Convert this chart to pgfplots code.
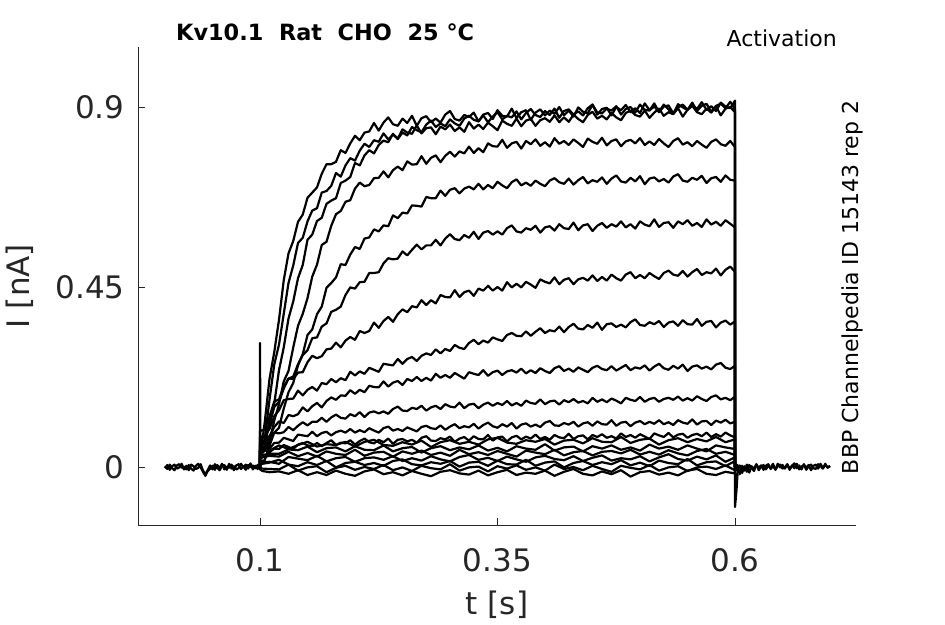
\documentclass[border=0pt]{standalone}
\usepackage{fontspec}
\setmainfont{DejaVu Sans}
\usepackage{pgfplots}
\pgfplotsset{compat=1.18}
\usepackage{pgfplotstable}
\definecolor{axgray}{HTML}{262626}

% main traces, current in pA
\pgfplotstableread{
t A B C D E F G H I J K L
0.1 0 0 0 0 0 0 0 0 0 0 0 0
0.1 310 40 30 30 15 55 90 75 62 42 45 40
0.1005 30 40 30 30 15 55 90 75 62 42 45 40
0.105 112 70 54 41 17 61 95 79 66 43 48 43
0.110 220 168 116 63 53 106 126 95 77 78 46 37
0.115 287 256 158 116 86 150 164 127 100 86 60 46
0.120 368 306 242 157 98 163 169 142 114 84 61 45
0.125 467 383 299 214 146 196 201 167 110 87 73 55
0.130 534 460 371 240 187 221 221 170 130 100 69 50
0.135 565 504 414 299 210 226 220 171 127 92 65 45
0.140 613 560 472 353 254 257 236 191 132 103 81 56
0.145 631 573 505 383 282 280 237 179 149 112 79 60
0.150 673 614 568 422 330 292 262 193 139 104 77 54
0.155 686 641 581 476 344 322 278 200 152 113 88 52
0.160 699 647 615 506 382 324 272 191 160 113 77 60
0.165 733 686 623 555 401 351 277 210 149 123 85 52
0.170 757 690 658 563 448 359 294 207 165 113 88 60
0.175 757 703 666 603 460 388 296 220 174 124 79 67
0.180 763 735 672 632 474 393 311 212 168 131 87 55
0.185 792 726 710 640 507 401 299 222 179 123 91 61
0.190 785 754 716 663 505 430 316 217 178 121 86 59
0.195 809 772 725 667 531 449 325 238 192 132 95 67
0.200 828 766 760 696 550 446 318 229 183 127 86 56
0.205 817 791 754 711 545 462 340 239 193 137 92 65
0.210 836 808 779 702 571 463 335 233 187 125 87 71
0.215 839 800 792 705 574 485 340 248 203 136 97 62
0.220 860 817 784 722 594 485 361 243 200 139 91 59
0.225 841 813 805 723 589 487 348 238 199 134 86 68
0.230 861 834 816 739 604 509 365 258 214 139 97 62
0.235 874 819 812 724 602 522 375 256 201 133 101 71
0.240 857 831 833 742 629 519 363 254 211 145 91 58
0.245 853 821 820 751 622 521 382 270 215 151 95 68
0.250 871 844 836 742 636 539 394 258 205 141 90 70
0.255 860 836 829 764 634 529 387 270 220 140 99 64
0.260 878 833 850 756 654 543 402 275 215 148 94 68
0.265 853 854 842 757 653 556 399 265 225 145 89 61
0.270 872 834 837 777 651 544 417 278 215 153 100 73
0.275 877 847 856 758 675 554 405 284 223 141 103 77
0.280 862 849 866 773 672 554 417 280 216 149 97 66
0.285 871 832 850 779 672 568 409 294 233 153 95 65
0.290 861 851 859 762 691 554 430 284 223 145 104 72
0.295 881 844 852 778 678 571 425 295 230 157 93 69
0.300 890 856 869 788 693 582 424 290 223 151 101 76
0.305 870 840 859 776 697 570 442 305 235 149 107 63
0.310 866 849 853 789 684 567 425 298 228 161 97 71
0.315 880 838 871 784 696 580 437 295 221 147 102 75
0.320 875 862 878 801 701 573 441 310 237 156 99 66
0.325 886 846 868 785 694 588 428 318 233 158 108 77
0.330 864 856 864 797 708 570 446 307 230 147 96 70
0.335 881 845 879 787 694 586 441 316 242 156 105 69
0.340 885 861 862 809 705 590 453 311 228 161 111 80
0.345 870 852 876 802 697 581 441 324 237 153 102 66
0.350 892 842 887 801 713 589 450 319 241 160 98 74
0.355 878 866 869 818 704 581 441 315 230 155 107 76
0.360 876 858 878 798 697 597 462 330 239 165 101 64
0.365 896 853 874 809 712 604 449 335 242 154 110 74
0.370 872 871 889 813 719 589 458 328 236 160 96 78
0.375 887 852 869 796 704 586 449 327 246 153 106 69
0.380 892 866 885 815 711 597 463 339 234 166 109 76
0.385 868 870 895 807 703 593 456 328 242 160 101 71
0.390 886 853 880 819 716 603 448 338 235 158 106 81
0.395 894 867 875 803 708 586 469 347 247 169 100 70
0.400 879 872 890 812 702 599 463 335 240 157 111 75
0.405 891 863 880 801 716 602 459 342 235 164 115 68
0.410 883 879 896 822 722 591 474 339 247 166 104 80
0.415 900 862 873 808 712 607 457 351 252 156 103 74
0.420 879 874 890 815 708 597 468 337 240 167 110 72
0.425 891 863 894 805 721 595 472 350 246 162 106 83
0.430 876 881 881 819 706 611 457 358 238 170 113 70
0.435 899 870 889 810 717 592 469 346 249 161 101 77
0.440 888 862 879 800 725 604 473 344 243 165 109 79
0.445 884 880 897 821 709 607 466 355 237 159 112 69
0.450 906 888 906 813 717 590 479 348 248 173 103 80
0.455 881 871 886 808 713 603 465 361 253 163 114 75
0.460 895 878 884 823 724 610 475 343 245 169 107 82
0.465 898 869 896 804 708 598 466 357 242 162 106 73
0.470 879 885 891 815 721 607 481 359 252 171 117 77
0.475 900 874 902 819 729 601 472 350 241 166 103 71
0.480 892 867 881 802 714 614 466 356 248 159 111 84
0.485 905 885 895 814 711 599 481 349 255 173 113 75
0.490 887 891 900 818 723 607 487 362 242 168 102 80
0.495 897 880 886 809 714 596 472 369 249 165 111 73
0.500 885 876 906 822 727 614 480 355 246 175 115 82
0.505 909 891 893 805 707 606 472 353 254 163 107 76
0.510 892 873 891 814 721 602 485 362 241 170 113 70
0.515 901 886 909 805 724 619 477 357 251 173 108 84
0.520 888 896 887 820 714 600 470 365 258 163 117 79
0.525 906 878 901 809 720 610 485 350 247 170 107 75
0.530 894 887 904 800 711 612 491 361 243 173 112 85
0.535 883 882 884 815 726 598 481 364 253 168 105 74
0.540 907 897 899 822 732 614 478 353 246 176 117 81
0.545 899 876 906 806 716 607 490 367 256 166 111 83
0.550 893 893 893 812 713 617 476 357 240 172 108 73
0.555 911 903 904 802 723 603 487 356 251 166 119 80
0.560 890 887 895 815 718 610 495 370 254 177 106 83
0.565 903 882 912 806 728 600 480 353 246 170 114 77
0.570 908 896 893 798 710 619 487 363 251 165 115 86
0.575 888 886 902 813 722 606 484 365 244 175 105 75
0.580 903 902 890 819 725 613 496 349 256 179 116 82
0.585 908 879 911 807 713 603 479 361 260 169 111 76
0.590 897 896 901 803 729 617 493 366 248 173 118 86
0.595 913 900 897 815 718 608 501 356 245 167 109 79
0.600 894 887 916 800 716 599 488 364 253 176 113 74
0.600 -100 0 0 0 0 0 0 0 0 0 0 0
0.6015 -60 0 0 0 0 0 0 0 0 0 0 0
0.603 -5 0 0 0 0 0 0 0 0 0 0 0
}\tabA

% small traces, current in pA
\pgfplotstableread{
t M N O P Q R S
0.1 0 0 0 0 0 0 0
0.1 40 28 20 10 4 -2 -6
0.1025 42 30 24 12 8 -4 -10
0.11 41 33 28 13 11 -5 -13
0.12 54 33 26 8 18 -6 -11
0.13 45 44 38 25 6 6 -17
0.14 55 42 27 21 2 -9 -8
0.15 63 51 35 17 12 -1 -20
0.16 51 37 26 28 5 2 -13
0.17 57 47 39 14 15 -13 -20
0.18 55 49 33 22 -1 -2 -9
0.19 63 39 30 25 10 3 -17
0.20 51 52 43 13 13 -7 -22
0.21 63 43 28 22 5 0 -11
0.22 68 42 36 24 10 -5 -6
0.23 55 54 38 18 3 5 -18
0.24 53 39 26 27 15 -8 -13
0.25 62 47 39 15 19 -1 -21
0.26 56 50 33 22 7 -10 -10
0.27 66 36 41 16 4 3 -17
0.28 50 47 30 27 12 -3 -23
0.29 62 52 36 19 8 -6 -12
0.30 67 42 28 14 15 7 -8
0.31 58 49 43 25 1 -9 -16
0.32 63 44 32 30 11 -1 -19
0.33 56 54 37 18 13 1 -9
0.34 69 41 30 23 3 -11 -21
0.35 73 48 40 15 16 2 -13
0.36 61 39 33 26 7 -4 -7
0.37 58 52 26 19 6 4 -20
0.38 67 46 41 13 18 -7 -14
0.39 63 43 36 24 3 -1 -17
0.40 70 57 32 28 11 -9 -9
0.41 56 41 43 20 14 6 -22
0.42 66 49 29 17 -1 -5 -12
0.43 68 51 37 27 10 0 -5
0.44 59 39 40 15 15 -8 -17
0.45 72 52 29 23 5 3 -21
0.46 63 46 38 29 12 -5 -11
0.47 62 54 40 16 7 -12 -18
0.48 75 43 34 22 17 3 -8
0.49 60 49 43 19 4 -2 -24
0.50 68 41 31 27 11 -6 -13
0.51 71 56 38 14 2 5 -10
0.52 56 46 31 24 16 -9 -19
0.53 67 51 42 32 10 -1 -14
0.54 72 43 34 20 7 2 -21
0.55 62 54 29 16 20 -10 -9
0.56 70 46 40 26 4 -1 -5
0.57 64 39 45 19 12 1 -17
0.58 75 54 33 29 14 -5 -20
0.59 62 49 38 13 2 4 -12
0.60 69 45 30 24 15 -8 -16
0.60 0 0 0 0 0 0 0
0.603 0 0 0 0 0 0 0
}\tabB

% baseline before the pulse
\pgfplotstableread{
t b1 b2
0 2 -3
0.0025 -5 5
0.005 6 -7
0.0075 -3 2
0.01 -8 6
0.0125 4 -4
0.015 7 -1
0.0175 -2 8
0.02 1 -6
0.0225 -6 3
0.025 5 -8
0.0275 -4 6
0.03 -9 2
0.0325 3 -5
0.035 8 -2
0.0375 -1 7
0.04 -12 -9
0.0425 -22 -18
0.045 -10 -8
0.0475 -4 4
0.05 3 -6
0.0525 -7 7
0.055 5 -2
0.0575 -3 -8
0.06 8 3
0.0625 -6 5
0.065 1 -7
0.0675 -2 8
0.07 6 -4
0.0725 -8 2
0.075 4 -6
0.0775 7 -3
0.08 -5 8
0.0825 2 -1
0.085 -7 6
0.0875 5 -4
0.09 -1 9
0.0925 4 -6
0.095 -3 3
0.0975 5 -5
0.1 0 0
}\tabPre

% baseline after the pulse
\pgfplotstableread{
t p1 p2
0.6 0 0
0.6025 -8 5
0.605 4 -18
0.6075 -15 3
0.61 2 -9
0.6125 -12 6
0.615 5 -14
0.6175 -3 2
0.62 -10 -4
0.6225 6 7
0.625 -2 -8
0.6275 4 1
0.63 -7 5
0.6325 3 -6
0.635 7 3
0.6375 -5 -2
0.64 2 8
0.6425 -6 -7
0.645 8 2
0.6475 -1 6
0.65 5 -4
0.6525 -4 -1
0.655 6 7
0.6575 -7 -5
0.66 3 4
0.6625 9 -3
0.665 -3 8
0.6675 4 -6
0.67 -6 1
0.6725 7 5
0.675 -2 -7
0.6775 5 2
0.68 -8 6
0.6825 3 -3
0.685 6 -5
0.6875 -4 7
0.69 8 2
0.6925 -3 -4
0.695 5 8
0.6975 -1 -2
0.7 2 3
}\tabPost

\begin{document}
\begin{tikzpicture}
\path[use as bounding box] (0,0) rectangle (945pt,624pt);
\begin{axis}[
  at={(138pt,99pt)}, anchor=south west,
  scale only axis, width=718pt, height=478pt,
  xmin=-0.02842, xmax=0.72737, ymin=-145, ymax=1050,
  axis x line*=bottom, axis y line*=left,
  axis line style={axgray, line width=0.8pt},
  xtick={0.1,0.35,0.6}, xticklabels={0.1,0.35,0.6},
  ytick={0,450,900}, yticklabels={0,0.45,0.9},
  tick align=inside, major tick length=7pt,
  tick style={axgray, line width=0.8pt},
  /pgf/number format/assume math mode=true,
  ticklabel style={font=\fontsize{31}{37}\selectfont, text=axgray},
  xticklabel style={yshift=-20pt},
  yticklabel style={xshift=-10pt},
  xlabel={t [s]}, ylabel={I [nA]},
  label style={font=\fontsize{31}{37}\selectfont, text=axgray},
  xlabel style={at={(axis description cs:0.5,-0.1674)}, anchor=center},
  ylabel style={at={(axis description cs:-0.1643,0.5)}, anchor=center},
  title={\textbf{Kv10.1~~Rat~~CHO~~25~°C}},
  title style={at={(axis description cs:0.0529,1)}, anchor=base west,
    font=\fontsize{22.4}{26}\selectfont, inner sep=0pt},
  clip=false,
]
\pgfplotsinvokeforeach{b1,b2}{
  \addplot[black, line width=2.2pt, line join=round, mark=none] table[x=t, y=#1] {\tabPre};
}
\pgfplotsinvokeforeach{p1,p2}{
  \addplot[black, line width=2.2pt, line join=round, mark=none] table[x=t, y=#1] {\tabPost};
}
\pgfplotsinvokeforeach{M,N,O,P,Q,R,S}{
  \addplot[black, line width=2.2pt, line join=round, mark=none] table[x=t, y=#1] {\tabB};
}
\pgfplotsinvokeforeach{L,K,J,I,H,G,F,E,D,C,B,A}{
  \addplot[black, line width=2.2pt, line join=round, mark=none] table[x=t, y=#1] {\tabA};
}
\node[anchor=base east, inner sep=0pt, font=\fontsize{22}{26}\selectfont]
  at (axis description cs:0.9735,1.002) {Activation};
\node[rotate=90, anchor=base, inner sep=0pt, font=\fontsize{22}{26}\selectfont]
  at (axis description cs:1.0028,0.497) {BBP Channelpedia ID 15143 rep 2};
\end{axis}
\end{tikzpicture}
\end{document}
